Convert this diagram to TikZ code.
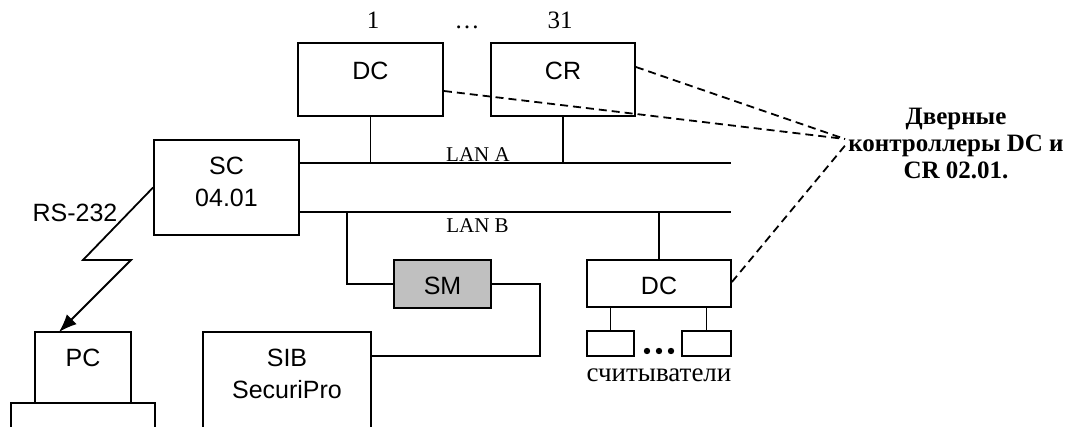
\documentclass[tikz,border=0pt]{standalone}
\usepackage{fontspec}
\setmainfont{Liberation Serif}
\setsansfont{Liberation Sans}
\usetikzlibrary{arrows.meta,calc}
\definecolor{smgray}{RGB}{192,192,192}
\begin{document}
\begin{tikzpicture}[x=1pt,y=-1pt,line width=1.8pt,
  box/.style={draw,rectangle,inner sep=0pt,line width=1.8pt},
  sf/.style={font=\fontsize{25}{30}\selectfont\sffamily,inner sep=0pt,anchor=base},
  rm/.style={font=\fontsize{25}{30}\selectfont\rmfamily,inner sep=0pt,anchor=base},
  rdr/.style={font=\fontsize{27}{30}\selectfont\rmfamily,inner sep=0pt,anchor=base},
  lan/.style={font=\fontsize{21}{24}\selectfont\rmfamily,inner sep=0pt,anchor=base},
  lbl/.style={font=\fontsize{25}{27}\selectfont\rmfamily\bfseries,inner sep=0pt,anchor=base},
  dsh/.style={dash pattern=on 8pt off 5pt,line width=1.8pt}]
\clip (0,0) rectangle (1085,427);
\fill[white] (0,0) rectangle (1085,427);
% boxes
\node[box,minimum width=145pt,minimum height=73pt] (dc1) at (370.5,79.5) {};
\node[box,minimum width=144pt,minimum height=73pt] (cr) at (563,79.5) {};
\node[box,minimum width=145pt,minimum height=95pt] (sc) at (226.5,187.5) {};
\node[box,fill=smgray,minimum width=97pt,minimum height=48pt] (sm) at (442.5,284) {};
\node[box,minimum width=144pt,minimum height=47pt] (dc2) at (659,283.5) {};
\node[box,minimum width=47pt,minimum height=25pt] (r1) at (610.5,343.5) {};
\node[box,minimum width=49pt,minimum height=25pt] (r2) at (706.5,343.5) {};
\node[box,minimum width=96pt,minimum height=71pt] (pc) at (83,367.5) {};
\node[box,minimum width=144pt,minimum height=47pt] (pcbase) at (83,426.5) {};
\node[box,minimum width=168pt,minimum height=118pt] (sib) at (287,391) {};
% texts
\node[sf] (tdc1) at (370.5,80) {DC};
\node[sf] (tcr) at (563,80) {CR};
\node[sf] (tsc1) at (226.5,175) {SC};
\node[sf] (tsc2) at (226.5,207) {04.01};
\node[sf] (tsm) at (442.5,295) {SM};
\node[sf] (tdc2) at (659,295) {DC};
\node[sf] (tpc) at (83,367) {PC};
\node[sf] (tsib1) at (287,367) {SIB};
\node[sf] (tsib2) at (287,399) {SecuriPro};
\node[sf] (trs) at (75,222) {RS-232};
\node[rm] (n1) at (373,29) {1};
\node[rm] (ndots) at (467,29) {…};
\node[rm] (n31) at (560,29) {31};
\node[lan] (lana) at (478,162) {LAN A};
\node[lan] (lanb) at (477.5,233) {LAN B};
\node[rdr] (readers) at (659,382) {считыватели};
\node[lbl] (lbl1) at (956,125) {Дверные};
\node[lbl] (lbl2) at (956,152) {контроллеры DC и};
\node[lbl] (lbl3) at (956,179) {CR 02.01.};
% buses
\coordinate (lanAend) at (731,163);
\coordinate (lanBend) at (731,212);
\draw (sc.east |- lanAend) -- (lanAend);
\draw (sc.east |- lanBend) -- (lanBend);
\draw (dc1.south) -- (dc1.south |- lanAend);
\draw (cr.south) -- (cr.south |- lanAend);
\draw (dc2.north) -- (dc2.north |- lanBend);
\coordinate (smtap) at (347,212);
\draw (smtap) |- (sm.west);
\coordinate (sibin) at (371,356);
\draw (sm.east) -- ++(48,0) |- (sibin);
\draw (r1.north) -- (r1.north |- dc2.south);
\draw (r2.north) -- (r2.north |- dc2.south);
\fill (647,351) circle (3.2pt) (659,351) circle (3.2pt) (671,351) circle (3.2pt);
% serial link
\coordinate (pctip) at (59,332);
\draw[-{Latex[length=18pt,width=14pt]}] (sc.west) -- (83,260) -- (131,260) -- (pctip);
% dashed pointers
\coordinate (conv) at (845,139);
\coordinate (conv2) at (848,142);
\draw[dsh] ($(dc1.east)+(0,11.5)$) -- (conv);
\draw[dsh] ($(cr.east)+(0,-12.5)$) -- (conv);
\draw[dsh] ($(dc2.east)+(0,-1.5)$) -- (conv2);
\end{tikzpicture}
\end{document}
